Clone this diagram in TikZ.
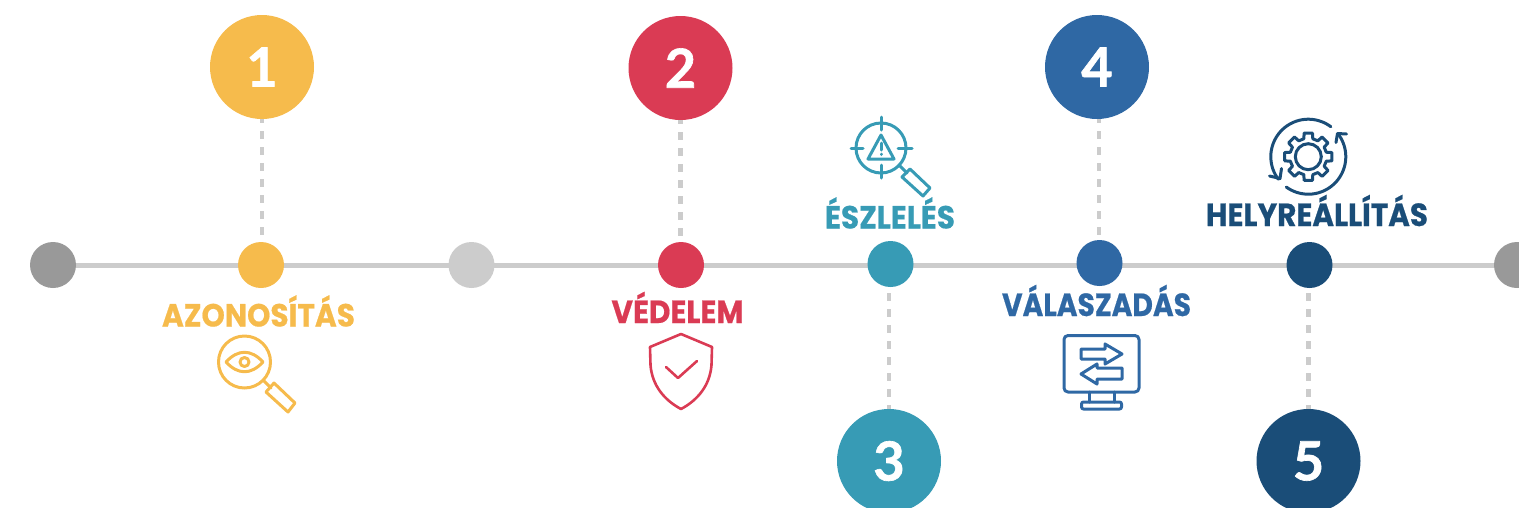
\documentclass[tikz,border=0pt]{standalone}
\usepackage{graphicx}
\usepackage{fontspec}
\newfontfamily\hd{Poppins}[FakeBold=0.6]
\newfontfamily\num{Lato}[FakeBold=1.2]
\definecolor{cyel}{HTML}{F6BB4C}
\definecolor{cred}{HTML}{DA3B54}
\definecolor{cteal}{HTML}{379BB5}
\definecolor{cblue}{HTML}{2F68A4}
\definecolor{cdark}{HTML}{1A4D78}
\definecolor{cgray}{HTML}{999999}
\definecolor{clite}{HTML}{CCCCCC}
\newcommand\fitw[2]{\resizebox{#1pt}{\height}{#2}}
\tikzset{
  big/.style={circle,minimum size=104pt,inner sep=0pt,fill=#1,text=white,font=\num\bfseries\fontsize{54}{54}\selectfont},
  dot/.style={circle,minimum size=46pt,inner sep=0pt,fill=#1},
  lab/.style={anchor=base,inner sep=0pt,text=#1,font=\hd\bfseries\fontsize{32}{32}\selectfont},
  axis/.style={draw=clite,line width=5pt},
  conn/.style={draw=clite,line width=4.5pt,dash pattern=on 8pt off 8pt,dash phase=4pt},
  ico/.style={draw=#1,line width=3pt,line join=round,line cap=round}
}
\begin{document}
\begin{tikzpicture}[x=1pt,y=-1pt]
\useasboundingbox (0,0) rectangle (1519,507);
\clip (0,0) rectangle (1519,507);
\coordinate (s0) at (53,265.5);
\coordinate (s7) at (1517,265.5);
\draw[axis] (s0) -- (s7);
\node[dot=cgray] (d0) at (53,265) {};
\node[dot=cyel] (d1) at (261,265) {};
\node[dot=clite] (dx) at (471.5,265) {};
\node[dot=cred] (d2) at (681,265) {};
\node[dot=cteal] (d3) at (890.5,264) {};
\node[dot=cblue] (d4) at (1099.5,263) {};
\node[dot=cdark] (d5) at (1309.5,265) {};
\node[dot=cgray] (d6) at (1517,265) {};
\node[big=cyel] (b1) at (262,67) {1};
\node[big=cred] (b2) at (680.5,68) {2};
\node[big=cblue] (b4) at (1097,67) {4};
\node[big=cteal] (b3) at (889,461) {3};
\node[big=cdark] (b5) at (1308.5,461) {5};
\draw[conn] (b1.south) -- (d1.north -| b1.south);
\draw[conn] (b2.south) -- (d2.north -| b2.south);
\draw[conn] ([xshift=2pt]b4.south) -- ([xshift=2pt]d4.north -| b4.south);
\draw[conn] (b3.north) -- ([yshift=-2pt]d3.south -| b3.north);
\draw[conn] (b5.north) -- ([yshift=-2pt]d5.south -| b5.north);
% labels
\node[lab=cyel] (l1) at (258.5,326.5) {\fitw{193}{AZONOSÍTÁS}};
\node[lab=cred] (l2) at (677.5,323) {\fitw{132}{VÉDELEM}};
\node[lab=cteal] (l3) at (890,228.5) {\fitw{130}{ÉSZLELÉS}};
\node[lab=cblue] (l4) at (1096.5,316) {\fitw{189}{VÁLASZADÁS}};
\node[lab=cdark] (l5) at (1317,226) {\fitw{222}{HELYREÁLLÍTÁS}};
% icon 1: eye magnifier
\begin{scope}[ico=cyel]
\draw (244.5,362) circle (26);
\draw (263,380) -- (271,388);
\draw (274,383) -- (295,403) -- (288,412) -- (266,392) -- cycle;
\draw (226,362) .. controls (238,349) and (251,349) .. (263,362) .. controls (251,375) and (238,375) .. (226,362) -- cycle;
\draw (244.5,362) circle (4.5);
\end{scope}
% icon 2: shield
\begin{scope}[ico=cred,line width=2.6pt]
\draw (681,334) -- (712,347) -- (711.5,365) .. controls (710,385) and (698,400) .. (681,409) .. controls (664,400) and (652,385) .. (650.5,365) -- (650,347) -- cycle;
\draw (666,367) -- (678,378) -- (697,361);
\end{scope}
% icon 3: alert magnifier
\begin{scope}[ico=cteal]
\draw (881,148) circle (25);
\draw (881,117) -- (881,130);
\draw (881,165) -- (881,178);
\draw (851,148) -- (863,148);
\draw (898,148) -- (912,148);
\draw (881,135) -- (868,159) -- (894,159) -- cycle;
\draw (881,143) -- (881,150);
\draw (881,154) -- (881,154.5);
\draw (899,165) -- (907,173);
\draw (910,169) -- (930,188) -- (923,196) -- (902,177) -- cycle;
\end{scope}
% icon 4: monitor
\begin{scope}[ico=cblue]
\draw[rounded corners=4pt] (1064,335.5) rectangle (1139,392);
\draw (1089,392) -- (1089,402);
\draw (1114,392) -- (1114,402);
\draw[rounded corners=2pt] (1081.5,402) rectangle (1121.5,409);
\draw (1081,349) -- (1105,349) -- (1105,344) -- (1122,354) -- (1105,364) -- (1105,359) -- (1081,359) -- cycle;
\draw (1122,368) -- (1097,368) -- (1097,364) -- (1081,374) -- (1097,384) -- (1097,379) -- (1122,379) -- cycle;
\end{scope}
% icon 5: gear
\begin{scope}[ico=cdark,shift={(1308.3,156.7)}]
\draw (0,0) circle (13);
\draw (76:18.5pt) \foreach \a in {90,135,...,405} { -- (\a-14:18.5pt) -- (\a-10:24pt) -- (\a+10:24pt) -- (\a+14:18.5pt) } -- cycle;
\draw plot[smooth,domain=53:217,samples=40] (\x:37.5pt);
\draw plot[smooth,domain=234:398,samples=40] (\x:37.5pt);
\end{scope}
\begin{scope}[ico=cdark]
\draw (1269.5,176) -- (1280,178.5) -- (1281.5,168.5);
\draw (1346.5,134) -- (1337.5,133.5) -- (1336,142.5);
\end{scope}
\end{tikzpicture}
\end{document}
